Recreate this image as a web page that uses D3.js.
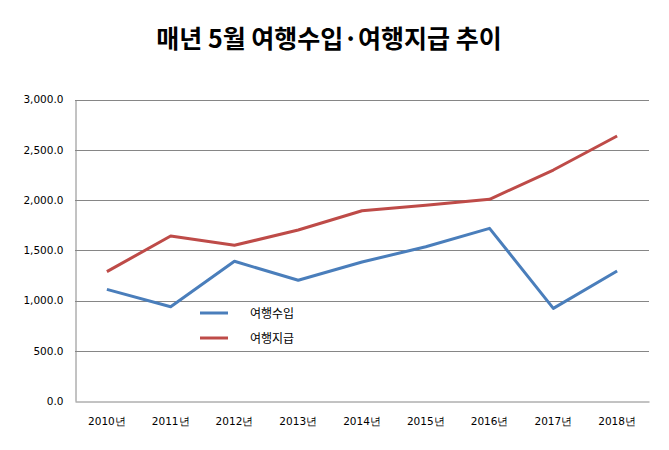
<!DOCTYPE html>
<html><head><meta charset="utf-8">
<script src="https://cdn.jsdelivr.net/npm/d3@7"></script>
<style>body{margin:0;background:#fff}</style>
</head><body><svg id="c" width="669" height="450"></svg>
<script>
const categories = ["2010년","2011년","2012년","2013년","2014년","2015년","2016년","2017년","2018년"];
const receipts = [1111, 938, 1390, 1201, 1383, 1535, 1718, 922, 1293];
const payments = [1287, 1642, 1549, 1701, 1893, 1947, 2007, 2298, 2637];
const yTicks = [0, 500, 1000, 1500, 2000, 2500, 3000];
const seriesNames = ["여행수입", "여행지급"];
const colors = ["#4A7EBB", "#BE4B48"];

const svg = d3.select("#c");
const mLeft = 75, mRight = 649, mTop = 99.5, mBottom = 401;
const x = d3.scaleBand().domain(categories).range([mLeft, mRight]);
const y = d3.scaleLinear().domain([0, 3000]).range([mBottom, mTop]);

svg.append("text").attr("x", 329).attr("y", 48).attr("text-anchor", "middle")
  .attr("font-family", "'Noto Sans CJK KR'").attr("font-weight", "bold").attr("font-size", 25)
  .attr("fill", "#000").text("매년 5월 여행수입·여행지급 추이");

// gridlines
svg.append("g").selectAll("line").data(yTicks.filter(d => d > 0)).join("line")
  .attr("x1", mLeft).attr("x2", mRight).attr("y1", d => Math.round(y(d)) + 0.5).attr("y2", d => Math.round(y(d)) + 0.5)
  .attr("stroke", "#868686").attr("stroke-width", 1);

const yAxis = svg.append("g").attr("transform", `translate(${mLeft + 0.5},0)`)
  .call(d3.axisLeft(y).tickValues(yTicks).tickSize(0).tickPadding(12).tickFormat(d3.format(",.1f")));
yAxis.select(".domain").attr("stroke", "#868686");
yAxis.selectAll("text").attr("font-family", "'DejaVu Sans'").attr("font-size", 10.5).attr("fill", "#000");

const xAxis = svg.append("g").attr("transform", `translate(0,${mBottom + 0.5})`)
  .call(d3.axisBottom(x).tickSize(0).tickPadding(16));
xAxis.select(".domain").attr("stroke", "#868686");
xAxis.selectAll("text").attr("font-family", "'DejaVu Sans'").attr("font-size", 10.5).attr("fill", "#000");

const line = d3.line().x((d, i) => x(categories[i]) + x.bandwidth() / 2).y(d => y(d));
[receipts, payments].forEach((s, i) => {
  svg.append("path").datum(s).attr("d", line).attr("fill", "none")
    .attr("stroke", colors[i]).attr("stroke-width", 3).attr("stroke-linejoin", "round");
});

// legend
seriesNames.forEach((n, i) => {
  const ly = 313 + i * 25;
  svg.append("line").attr("x1", 200).attr("x2", 228).attr("y1", ly).attr("y2", ly)
    .attr("stroke", colors[i]).attr("stroke-width", 3);
  svg.append("text").attr("x", 250).attr("y", ly + 5).attr("font-family", "'Noto Sans CJK KR'")
    .attr("font-size", 12).attr("fill", "#000").text(n);
});
</script></body></html>
